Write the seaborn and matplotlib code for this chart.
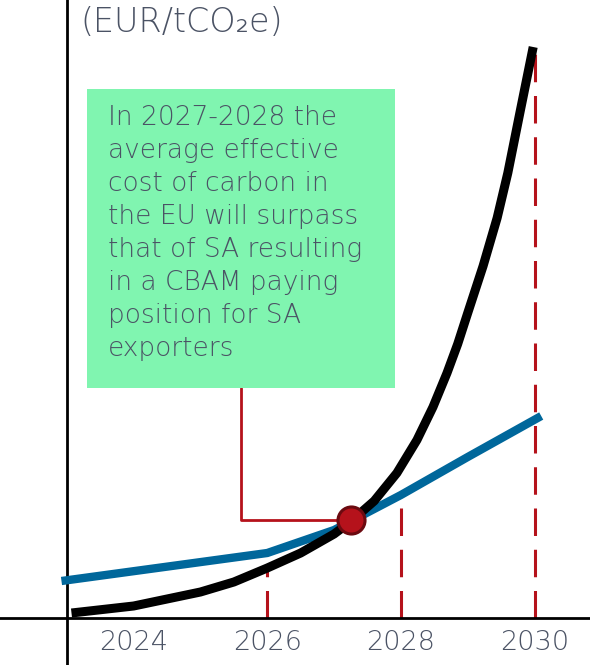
import numpy as np
import pandas as pd
import matplotlib
matplotlib.use("Agg")
import matplotlib.pyplot as plt
import seaborn as sns
from matplotlib.patches import Rectangle

# EU effective carbon cost (black curve)
eu_years = [2023.07, 2024.0, 2025.0, 2025.5, 2026.0, 2026.5, 2027.0, 2027.24, 2027.6,
            2027.94, 2028.24, 2028.48, 2028.69, 2028.85, 2029.0, 2029.23, 2029.44,
            2029.6, 2029.78, 2029.98]
eu_cost = [5, 12, 26, 36, 50, 65, 84, 96, 117,
           145, 178, 211, 245, 274, 305, 352, 400,
           445, 505, 571]

# SA effective carbon cost (blue line)
sa_years = [2022.92, 2026.0, 2027.0, 2028.0, 2029.0, 2030.1]
sa_cost = [37, 65, 88, 123, 161, 202]

# crossing point and reference years
cross_year = 2027.25
cross_cost = 98
marker_years = [2026, 2028, 2030]
marker_tops = [50, 125, 571]
tick_years = [2024, 2026, 2028, 2030]

unit_label = "(EUR/tCO\u2082e)"
note = ("In 2027-2028 the\naverage effective\ncost of carbon in\nthe EU will surpass\n"
        "that of SA resulting\nin a CBAM paying\nposition for SA\nexporters")

RED = "#b5121b"
BLUE = "#00679b"
TEXT = "#4b5365"
GREEN = "#80f5b0"


def create_visualization(output_image_path):
    sns.set_style("white")
    plt.rcParams["font.family"] = ["DejaVu Sans"]

    fig = plt.figure(figsize=(5.9, 6.65), dpi=100)
    ax = fig.add_axes([0, 0, 1, 1])

    eu = pd.DataFrame({"year": eu_years, "cost": eu_cost})
    sa = pd.DataFrame({"year": sa_years, "cost": sa_cost})

    # red dashed reference lines
    for yr, top in zip(marker_years, marker_tops):
        ax.plot([yr, yr], [0, top], color=RED, lw=2.2, dashes=(9, 4.5), zorder=2)

    sns.lineplot(data=sa, x="year", y="cost", color=BLUE, lw=6, ax=ax, zorder=3,
                 solid_capstyle="butt", solid_joinstyle="miter")
    sns.lineplot(data=eu, x="year", y="cost", color="black", lw=6.5, ax=ax, zorder=4,
                 solid_capstyle="butt", solid_joinstyle="round")

    # annotation box and connector
    box_x0, box_x1, box_y0, box_y1 = 2023.30, 2027.91, 230, 529
    ax.add_patch(Rectangle((box_x0, box_y0), box_x1 - box_x0, box_y1 - box_y0,
                           facecolor=GREEN, edgecolor="none", zorder=5))
    ax.text(2023.62, 513, note, ha="left", va="top", fontsize=19, color=TEXT,
            fontweight="light", linespacing=1.40, zorder=6)
    conn_x = 2025.6
    ax.plot([conn_x, conn_x, cross_year], [box_y0, cross_cost, cross_cost],
            color=RED, lw=2, zorder=2.5)
    ax.scatter([cross_year], [cross_cost], s=380, color=RED, edgecolor="#6b0a10",
               linewidth=2.2, zorder=7)

    ax.set_xlim(2022.0, 2030.83)
    ax.set_ylim(-47, 618)

    for side in ["top", "right"]:
        ax.spines[side].set_visible(False)
    ax.spines["left"].set_position(("data", 2023))
    ax.spines["bottom"].set_position(("data", 0))
    for side in ["left", "bottom"]:
        ax.spines[side].set_color("black")
        ax.spines[side].set_linewidth(2)

    ax.set_xticks(tick_years)
    ax.set_xticklabels([str(t) for t in tick_years], fontsize=19.5, color=TEXT,
                       fontweight="light")
    ax.tick_params(axis="x", length=0, pad=9)
    ax.set_yticks([])
    ax.set_xlabel("")
    ax.set_ylabel("")

    ax.text(2023.2, 595, unit_label, ha="left", va="center", fontsize=24, color=TEXT,
            fontweight="light")

    fig.savefig(output_image_path, dpi=100)


def main():
    create_visualization("out.png")


if __name__ == "__main__":
    main()
